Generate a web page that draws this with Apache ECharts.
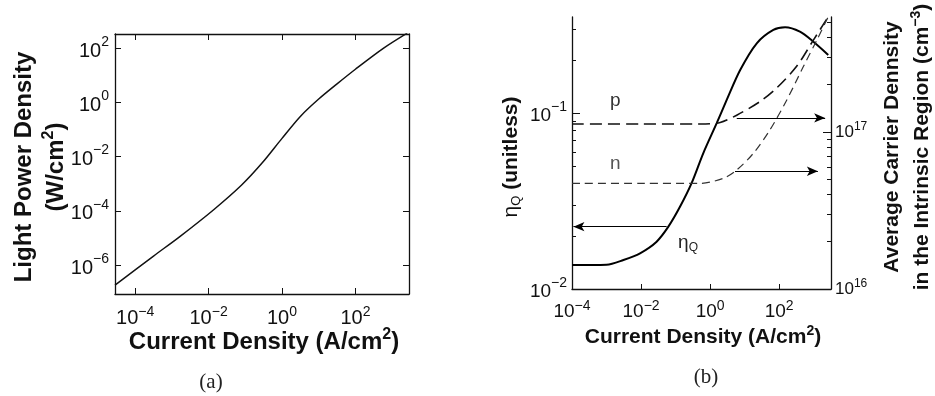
<!DOCTYPE html>
<html><head><meta charset="utf-8">
<script src="https://cdn.jsdelivr.net/npm/echarts@6/dist/echarts.min.js"></script>
<style>html,body{margin:0;padding:0;background:#fff}#c{width:935px;height:396px}</style>
</head><body><div id="c"></div>
<script>
// ---- (a) Light power density vs current density ----
const jA = [2.82e-5, 3.16e-4, 1.58e-3, 1.35e-2, 7.94e-2, 0.282, 1.0, 3.16, 10.0, 31.6, 100, 575, 2570];
const pA = [1.82e-7, 2.14e-6, 1.07e-5, 1.07e-4, 8.91e-4, 5.62e-3, 4.68e-2, 0.302, 1.32, 4.79, 16.6, 97.7, 355];
const ticksXA = [-4, -2, 0, 2];        // exponents
const ticksYA = [-6, -4, -2, 0, 2];

// ---- (b) quantum efficiency and carrier densities ----
const jEta = [1e-4, 1e-3, 3.09e-3, 9.33e-3, 2.82e-2, 6.17e-2, 0.135, 0.295, 0.631, 1.55, 3.02, 7.41, 22.4, 67.6, 148, 398, 977, 2630];
const eta  = [0.01368, 0.01374, 0.01462, 0.01596, 0.01858, 0.0226, 0.0294, 0.0402, 0.0590, 0.0875, 0.1186, 0.1754, 0.2489, 0.2965, 0.3069, 0.2897, 0.2541, 0.2138];
const jP = [1e-4, 1e-2, 0.513, 1.95, 5.89, 27.5, 85.1, 324, 977, 2630];
const pB = [1.125e17, 1.125e17, 1.125e17, 1.15e17, 1.28e17, 1.56e17, 1.91e17, 2.63e17, 3.85e17, 5.42e17];
const jN = [1e-4, 1e-2, 0.513, 2.40, 5.89, 17.8, 53.7, 166, 501, 1230, 2630];
const nB = [4.71e16, 4.71e16, 4.71e16, 5.07e16, 5.73e16, 7.31e16, 1.03e17, 1.60e17, 2.61e17, 3.85e17, 5.42e17];
const ticksXB = [-4, -2, 0, 2];
const ticksEta = [-2, -1];
const ticksCarrier = [16, 17];
// annotation anchors (data units)
const arrowP = [[5.9, 1.23e17], [2140, 1.23e17]];
const arrowN = [[5.25, 5.62e16], [1318, 5.62e16]];
const arrowEta = [[0.055, 0.0226], [1.1e-4, 0.0226]];
const labelP = [1.78e-3, 1.57e17];
const labelN = [1.78e-3, 6.25e16];
const labelEta = [0.229, 0.01824];

const L = Math.log10;
const pairs = (xs, ys) => xs.map((x, i) => [L(x), L(ys[i])]);
const minus = v => (v < 0 ? '\u2212' + (-v) : '' + v);
const FONT = 'Liberation Sans';
const powLabel = (fs, ss, pad, down) => ({
  formatter: v => '{b|10}{s|' + minus(Math.round(v)) + '}',
  rich: {
    b: {fontSize: fs, fontFamily: FONT, color: '#111', padding: [down || 0, 0, 0, 0]},
    s: {fontSize: ss, fontFamily: FONT, color: '#111', padding: [0, 0, pad, 0]}
  }
});
const minorTicks = (lo, hi) => {
  const out = [];
  for (let d = Math.floor(lo); d < Math.ceil(hi); d++)
    for (let k = 2; k <= 9; k++) { const v = d + L(k); if (v > lo && v < hi) out.push(v); }
  return out;
};

const AXC = '#111';
const xa = {min: -4.55, max: 3.46};
const ya = {min: -7.07, max: 2.52};
const xb = {min: -4, max: 3.5};
const yEta = {min: -2, max: -2 + 272 / 176};
const yCar = {min: 16, max: 16 + 272 / 157};

function ax(extra) {
  return Object.assign({
    type: 'value', splitLine: {show: false},
    axisLine: {show: true, onZero: false, lineStyle: {color: AXC, width: 1.3}},
  }, extra);
}

const option = {
  backgroundColor: '#fff',
  animation: false,
  grid: [
    {left: 115, right: 526, top: 34, bottom: 102},
    {left: 572, right: 104, top: 17, bottom: 107}
  ],
  xAxis: [
    ax(Object.assign({gridIndex: 0, position: 'bottom',
      axisTick: {inside: true, length: 6, customValues: ticksXA, lineStyle: {color: AXC}},
      axisLabel: Object.assign({margin: 11, customValues: ticksXA}, powLabel(20, 14, 12))}, xa)),
    ax(Object.assign({gridIndex: 0, position: 'top',
      axisTick: {inside: true, length: 6, customValues: ticksXA, lineStyle: {color: AXC}},
      axisLabel: {show: false}}, xa)),
    ax(Object.assign({gridIndex: 1, position: 'bottom',
      axisTick: {inside: true, length: 5, customValues: [-2, 0, 2], lineStyle: {color: AXC}},
      axisLabel: Object.assign({margin: 10, customValues: ticksXB}, powLabel(19, 14, 12))}, xb))
  ],
  yAxis: [
    ax(Object.assign({gridIndex: 0, position: 'left',
      axisTick: {inside: true, length: 6, customValues: ticksYA, lineStyle: {color: AXC}},
      axisLabel: Object.assign({margin: 6, customValues: ticksYA}, powLabel(20, 14, 12, 6))}, ya)),
    ax(Object.assign({gridIndex: 0, position: 'right',
      axisTick: {inside: true, length: 6, customValues: ticksYA, lineStyle: {color: AXC}},
      axisLabel: {show: false}}, ya)),
    ax(Object.assign({gridIndex: 1, position: 'left',
      axisTick: {inside: true, length: 8, customValues: [-1], lineStyle: {color: AXC}},
      axisLabel: Object.assign({margin: 5, customValues: ticksEta}, powLabel(19, 14, 12, 6))}, yEta)),
    ax(Object.assign({gridIndex: 1, position: 'left', axisLine: {show: false, onZero: false},
      axisTick: {inside: true, length: 4, customValues: minorTicks(yEta.min, yEta.max), lineStyle: {color: AXC}},
      axisLabel: {show: false}}, yEta)),
    ax(Object.assign({gridIndex: 1, position: 'right',
      axisTick: {inside: true, length: 8, customValues: [17], lineStyle: {color: AXC}},
      axisLabel: Object.assign({margin: 4, customValues: ticksCarrier}, powLabel(17, 12, 11))}, yCar)),
    ax(Object.assign({gridIndex: 1, position: 'right', axisLine: {show: false, onZero: false},
      axisTick: {inside: true, length: 4, customValues: minorTicks(yCar.min, yCar.max), lineStyle: {color: AXC}},
      axisLabel: {show: false}}, yCar))
  ],
  series: [
    {type: 'line', xAxisIndex: 0, yAxisIndex: 0, data: pairs(jA, pA), showSymbol: false, smooth: 0.3,
      lineStyle: {color: '#111', width: 1.5}, silent: true},
    {type: 'line', xAxisIndex: 2, yAxisIndex: 2, data: pairs(jEta, eta), showSymbol: false, smooth: 0.3,
      lineStyle: {color: '#000', width: 2}, silent: true,
      markLine: {silent: true, symbol: ['none', 'arrow'], symbolSize: [7, 11], label: {show: false},
        lineStyle: {color: '#000', width: 1.2, type: 'solid'},
        data: [[{coord: [L(arrowEta[0][0]), L(arrowEta[0][1])]}, {coord: [L(arrowEta[1][0]), L(arrowEta[1][1])]}]]},
      markPoint: {silent: true, symbol: 'circle', symbolSize: 1, itemStyle: {color: 'rgba(0,0,0,0)'},
        label: {show: true, position: 'inside', formatter: '{e|\u03b7}{q|Q}',
          rich: {e: {fontSize: 19, fontFamily: FONT, color: '#222'}, q: {fontSize: 12, fontFamily: FONT, color: '#222', padding: [9, 0, 0, 0]}}},
        data: [{coord: [L(labelEta[0]), L(labelEta[1])]}]}},
    {type: 'line', xAxisIndex: 2, yAxisIndex: 4, data: pairs(jP, pB), showSymbol: false, smooth: 0.3,
      lineStyle: {color: '#111', width: 1.6, type: [12, 6]}, silent: true,
      markLine: {silent: true, symbol: ['none', 'arrow'], symbolSize: [7, 11], label: {show: false},
        lineStyle: {color: '#000', width: 1.2, type: 'solid'},
        data: [[{coord: [L(arrowP[0][0]), L(arrowP[0][1])]}, {coord: [L(arrowP[1][0]), L(arrowP[1][1])]}]]},
      markPoint: {silent: true, symbol: 'circle', symbolSize: 1, itemStyle: {color: 'rgba(0,0,0,0)'},
        label: {show: true, position: 'inside', formatter: 'p', fontSize: 19, fontFamily: FONT, color: '#333'},
        data: [{coord: [L(labelP[0]), L(labelP[1])]}]}},
    {type: 'line', xAxisIndex: 2, yAxisIndex: 4, data: pairs(jN, nB), showSymbol: false, smooth: 0.3,
      lineStyle: {color: '#333', width: 1.2, type: [8, 5]}, silent: true,
      markLine: {silent: true, symbol: ['none', 'arrow'], symbolSize: [7, 11], label: {show: false},
        lineStyle: {color: '#000', width: 1.2, type: 'solid'},
        data: [[{coord: [L(arrowN[0][0]), L(arrowN[0][1])]}, {coord: [L(arrowN[1][0]), L(arrowN[1][1])]}]]},
      markPoint: {silent: true, symbol: 'circle', symbolSize: 1, itemStyle: {color: 'rgba(0,0,0,0)'},
        label: {show: true, position: 'inside', formatter: 'n', fontSize: 19, fontFamily: FONT, color: '#555'},
        data: [{coord: [L(labelN[0]), L(labelN[1])]}]}}
  ],
  graphic: [
    {type: 'text', x: 24, y: 167, rotation: Math.PI / 2, silent: true,
      style: {text: 'Light Power Density', font: 'bold 24px "Liberation Sans"', fill: '#111', align: 'center', verticalAlign: 'middle'}},
    {type: 'text', x: 56, y: 167, rotation: Math.PI / 2, silent: true,
      style: {text: '{t|(W/cm}{s|2}{t|)}', align: 'center', verticalAlign: 'middle',
        rich: {t: {font: 'bold 24px "Liberation Sans"', fill: '#111'}, s: {font: 'bold 16px "Liberation Sans"', fill: '#111', padding: [0, 0, 14, 0]}}}},
    {type: 'text', x: 264, y: 342, silent: true,
      style: {text: '{t|Current Density (A/cm}{s|2}{t|)}', align: 'center', verticalAlign: 'middle',
        rich: {t: {font: 'bold 24px "Liberation Sans"', fill: '#111'}, s: {font: 'bold 16px "Liberation Sans"', fill: '#111', padding: [0, 0, 14, 0]}}}},
    {type: 'text', x: 211, y: 382, silent: true,
      style: {text: '(a)', font: '21px "Liberation Serif"', fill: '#222', align: 'center', verticalAlign: 'middle'}},
    {type: 'text', x: 511, y: 157, rotation: Math.PI / 2, silent: true,
      style: {text: '{e|\u03b7}{q|Q}{t| (unitless)}', align: 'center', verticalAlign: 'middle',
        rich: {e: {font: '21px "Liberation Sans"', fill: '#111'}, q: {font: '13px "Liberation Sans"', fill: '#111', padding: [10, 0, 0, 0]},
          t: {font: 'bold 21px "Liberation Sans"', fill: '#111'}}}},
    {type: 'text', x: 892, y: 147, rotation: Math.PI / 2, silent: true,
      style: {text: 'Average Carrier Dennsity', font: 'bold 21px "Liberation Sans"', fill: '#111', align: 'center', verticalAlign: 'middle'}},
    {type: 'text', x: 922, y: 147, rotation: Math.PI / 2, silent: true,
      style: {text: '{t|in the Intrinsic Region (cm}{s|\u22123}{t|)}', align: 'center', verticalAlign: 'middle',
        rich: {t: {font: 'bold 21px "Liberation Sans"', fill: '#111'}, s: {font: 'bold 14px "Liberation Sans"', fill: '#111', padding: [0, 0, 12, 0]}}}},
    {type: 'text', x: 703, y: 337, silent: true,
      style: {text: '{t|Current Density (A/cm}{s|2}{t|)}', align: 'center', verticalAlign: 'middle',
        rich: {t: {font: 'bold 21px "Liberation Sans"', fill: '#111'}, s: {font: 'bold 14px "Liberation Sans"', fill: '#111', padding: [0, 0, 12, 0]}}}},
    {type: 'text', x: 706, y: 377, silent: true,
      style: {text: '(b)', font: '21px "Liberation Serif"', fill: '#222', align: 'center', verticalAlign: 'middle'}}
  ]
};
const chart = echarts.init(document.getElementById('c'), null, {renderer: 'canvas'});
chart.setOption(option);
</script></body></html>
